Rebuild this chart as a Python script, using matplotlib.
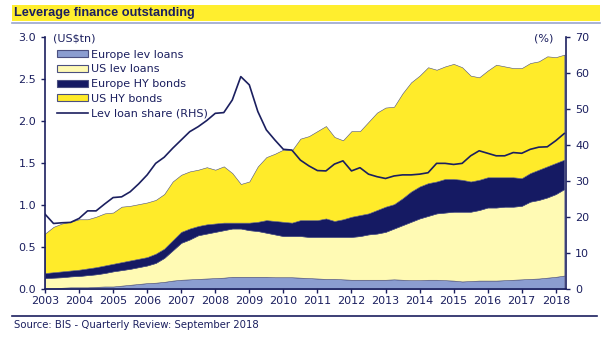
import numpy as np
import matplotlib
matplotlib.use("Agg")
import matplotlib.pyplot as plt
from matplotlib.patches import Rectangle, Patch
from matplotlib.lines import Line2D

# quarterly data, 2003Q1 .. 2018Q2 (US$tn)
eur_lev = [0.01, 0.01, 0.015, 0.02, 0.02, 0.02, 0.025, 0.03,
           0.03, 0.04, 0.05, 0.06, 0.07, 0.075, 0.085, 0.10,
           0.11, 0.115, 0.12, 0.125, 0.13, 0.135, 0.145, 0.145,
           0.145, 0.145, 0.145, 0.14, 0.14, 0.14, 0.135, 0.13,
           0.125, 0.12, 0.12, 0.115, 0.11, 0.11, 0.11, 0.11,
           0.11, 0.115, 0.11, 0.105, 0.105, 0.11, 0.11, 0.105,
           0.10, 0.09, 0.095, 0.10, 0.10, 0.10, 0.105, 0.11,
           0.115, 0.12, 0.125, 0.135, 0.145, 0.16]
us_lev = [0.12, 0.125, 0.125, 0.13, 0.135, 0.145, 0.15, 0.16,
          0.18, 0.185, 0.19, 0.20, 0.21, 0.235, 0.285, 0.36,
          0.44, 0.475, 0.52, 0.535, 0.55, 0.565, 0.575, 0.575,
          0.555, 0.545, 0.525, 0.51, 0.49, 0.49, 0.495, 0.49,
          0.495, 0.50, 0.50, 0.505, 0.51, 0.52, 0.54, 0.55,
          0.57, 0.605, 0.65, 0.695, 0.735, 0.76, 0.79, 0.805,
          0.82, 0.83, 0.825, 0.84, 0.87, 0.87, 0.875, 0.87,
          0.875, 0.92, 0.935, 0.955, 0.985, 1.03]
eur_hy = [0.06, 0.065, 0.07, 0.07, 0.075, 0.08, 0.085, 0.09,
          0.09, 0.095, 0.10, 0.10, 0.10, 0.11, 0.11, 0.12,
          0.13, 0.13, 0.11, 0.11, 0.10, 0.09, 0.07, 0.07,
          0.09, 0.11, 0.15, 0.16, 0.17, 0.16, 0.19, 0.20,
          0.20, 0.22, 0.19, 0.21, 0.24, 0.25, 0.25, 0.28,
          0.30, 0.29, 0.32, 0.36, 0.38, 0.39, 0.38, 0.40,
          0.39, 0.38, 0.36, 0.36, 0.36, 0.36, 0.35, 0.35,
          0.33, 0.34, 0.36, 0.37, 0.37, 0.35]
us_hy = [0.47, 0.54, 0.57, 0.58, 0.60, 0.585, 0.60, 0.62,
         0.61, 0.66, 0.65, 0.65, 0.65, 0.64, 0.65, 0.70,
         0.68, 0.68, 0.67, 0.68, 0.64, 0.67, 0.59, 0.46,
         0.49, 0.66, 0.75, 0.80, 0.86, 0.86, 0.97, 1.00,
         1.06, 1.10, 1.00, 0.94, 1.02, 1.00, 1.09, 1.16,
         1.18, 1.16, 1.25, 1.30, 1.32, 1.38, 1.33, 1.34,
         1.37, 1.34, 1.26, 1.22, 1.27, 1.34, 1.32, 1.30,
         1.31, 1.31, 1.29, 1.31, 1.26, 1.25]
# leveraged loan share (%), RHS
lev_share = [20.8, 18.2, 18.4, 18.5, 19.6, 21.7, 21.7, 23.6,
             25.4, 25.6, 27.0, 29.2, 31.7, 34.9, 36.6, 39.1,
             41.4, 43.7, 45.1, 46.8, 48.8, 49.0, 52.5, 59.0,
             56.7, 49.3, 44.2, 41.4, 38.8, 38.6, 35.8, 34.2,
             32.9, 32.8, 34.7, 35.6, 32.8, 33.7, 31.9, 31.2,
             30.7, 31.4, 31.7, 31.7, 31.9, 32.3, 34.9, 34.9,
             34.6, 34.9, 37.0, 38.4, 37.7, 37.0, 37.0, 37.9,
             37.7, 38.8, 39.4, 39.5, 41.2, 43.2]
years = list(range(2003, 2019))
labels = ["Europe lev loans", "US lev loans", "Europe HY bonds", "US HY bonds"]

navy = "#1b1f5f"
colors = ["#8b9dd0", "#fffab4", "#151a63", "#ffeb2a"]

t = 2003 + np.arange(len(eur_lev)) * 0.25

fig = plt.figure(figsize=(6.08, 3.43), dpi=100)
ax = fig.add_axes([45/608, 1-289/343, (566-45)/608, (289-37)/343])

ax.stackplot(t, eur_lev, us_lev, eur_hy, us_hy, colors=colors,
             edgecolor="#4b5080", linewidth=0.4)
ax.set_xlim(2003, 2018.3)
ax.set_ylim(0, 3.0)
ax.set_yticks(np.arange(0, 3.01, 0.5))
ax.set_yticklabels([f"{v:.1f}" for v in np.arange(0, 3.01, 0.5)])
ax.set_xticks(years)
ax.set_xticklabels([str(y) for y in years])

ax2 = ax.twinx()
ax2.plot(t, lev_share, color=navy, linewidth=1.2)
ax2.set_ylim(0, 70)
ax2.set_yticks(range(0, 71, 10))

for a in (ax, ax2):
    for s in a.spines.values():
        s.set_color(navy)
        s.set_linewidth(1.2)
    a.spines["top"].set_visible(False)
    a.tick_params(colors=navy, labelcolor=navy, labelsize=8, length=3, width=1, direction="out")
ax2.spines["left"].set_visible(False)
ax2.spines["bottom"].set_visible(False)
ax.spines["right"].set_visible(False)
ax.tick_params(axis="x", pad=2)

ax.text(0.015, 0.995, "(US$tn)", transform=ax.transAxes, color=navy, fontsize=8, va="center", ha="left")
ax.text(0.975, 0.995, "(%)", transform=ax.transAxes, color=navy, fontsize=8, va="center", ha="right")

handles = [Patch(facecolor=c, edgecolor="#4b5080", linewidth=0.8) for c in colors]
handles.append(Line2D([0], [0], color=navy, linewidth=1.2))
leg = ax.legend(handles, labels + ["Lev loan share (RHS)"], loc="upper left",
                bbox_to_anchor=(0.008, 0.98), frameon=False, fontsize=8,
                labelcolor=navy, handlelength=2.8, handleheight=0.6,
                handletextpad=0.3, labelspacing=0.42, borderaxespad=0.3)

# title band and rules
fig.patches.append(Rectangle((12/608, 1-21/343), (600-12)/608, 16/343, transform=fig.transFigure,
                             facecolor="#ffee2e", edgecolor="none"))
fig.add_artist(Line2D([12/608, 600/608], [1-22.5/343, 1-22.5/343], transform=fig.transFigure,
                      color="#9aa6cc", linewidth=1.2))
fig.text(14/608, 1-13/343, "Leverage finance outstanding", color=navy, fontsize=9.2,
         family="Liberation Sans", fontweight="bold", va="center", ha="left")
fig.add_artist(Line2D([12/608, 597/608], [1-316/343, 1-316/343], transform=fig.transFigure,
                      color=navy, linewidth=1.2))
fig.text(14/608, 1-325/343, "Source: BIS - Quarterly Review: September 2018", color=navy,
         fontsize=7.3, va="center", ha="left")

fig.savefig("out.png", dpi=100)
